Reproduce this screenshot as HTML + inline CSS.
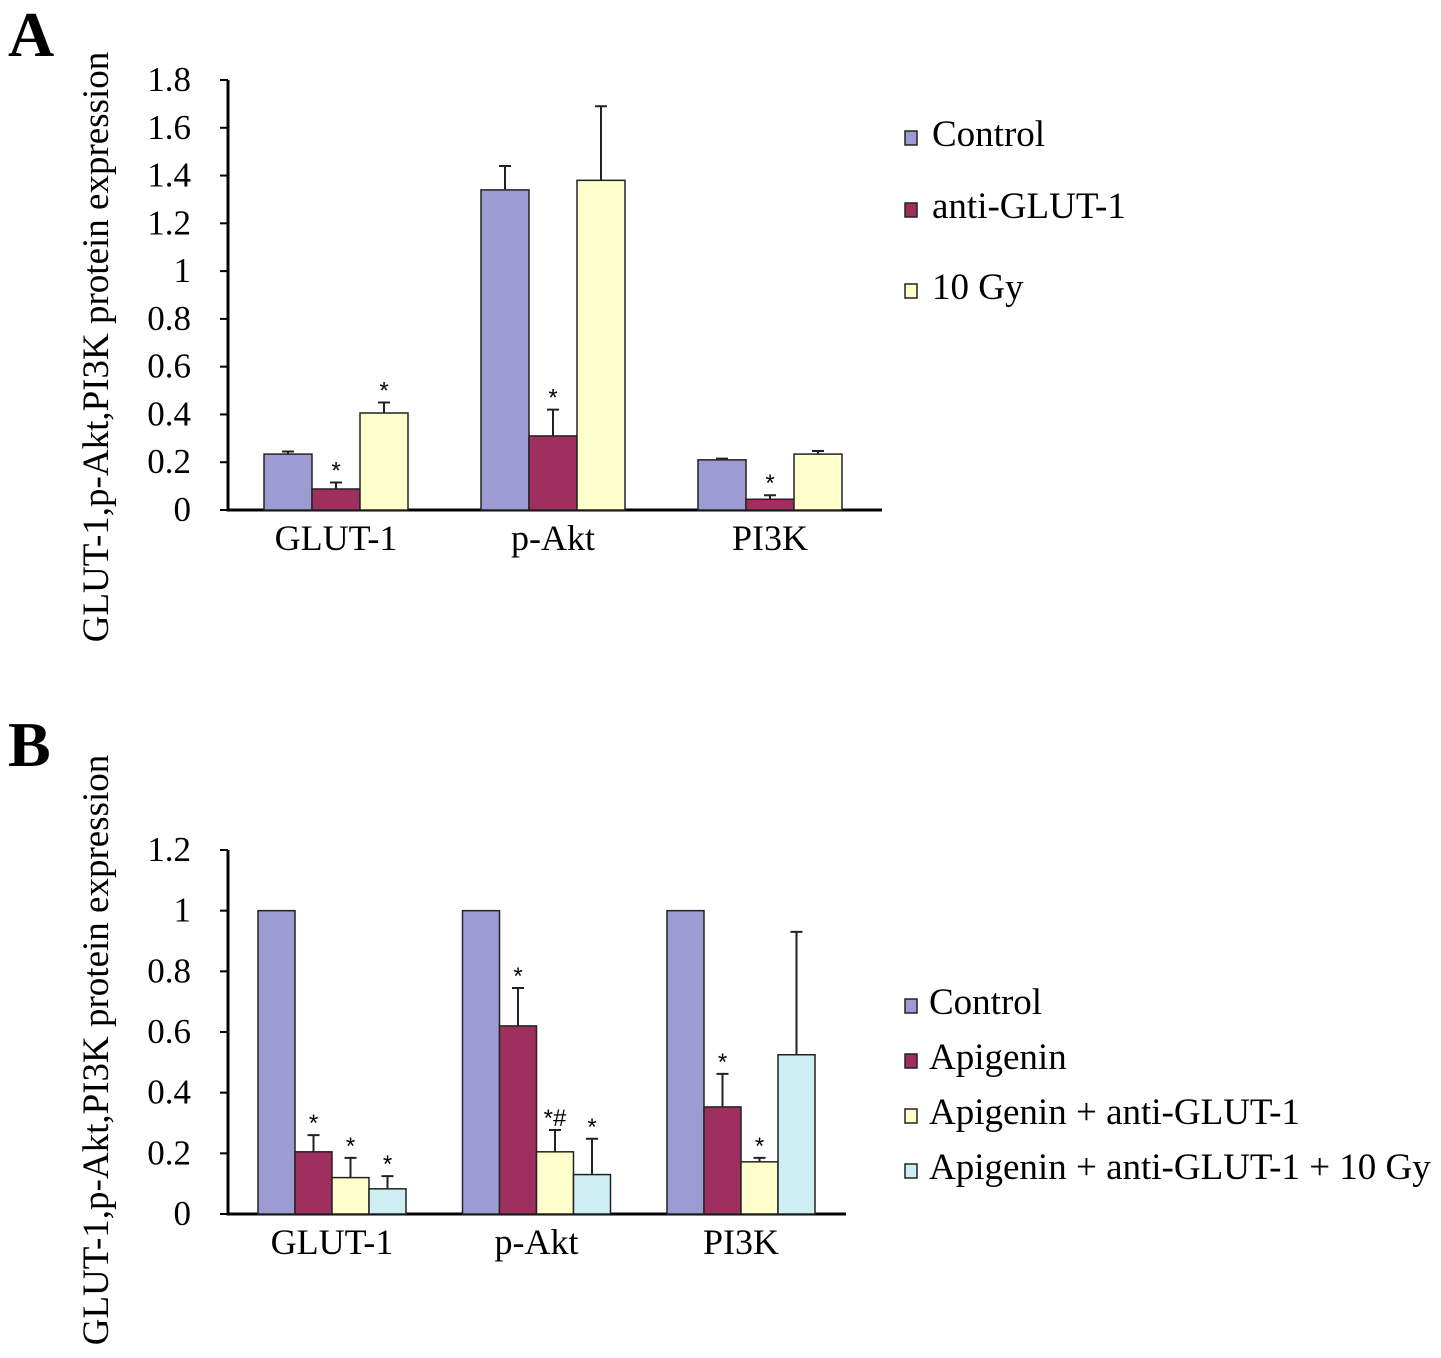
<!DOCTYPE html>
<html><head><meta charset="utf-8"><style>
body{margin:0;background:#fff}
svg{display:block;font-family:"Liberation Serif",serif}
</style></head><body>
<svg id="s" width="1441" height="1358" viewBox="0 0 1441 1358">
<text x="8" y="56" font-size="64" font-weight="bold">A</text>
<text x="8" y="766" font-size="64" font-weight="bold">B</text>
<text transform="translate(108,347) rotate(-90)" text-anchor="middle" font-size="37">GLUT-1,p-Akt,PI3K protein expression</text>
<text transform="translate(108,1050) rotate(-90)" text-anchor="middle" font-size="37">GLUT-1,p-Akt,PI3K protein expression</text>
</svg>
<script>
const categories=["GLUT-1","p-Akt","PI3K"];
const seriesA=["Control","anti-GLUT-1","10 Gy"];
const valuesA=[[0.234,1.34,0.21],[0.088,0.31,0.045],[0.406,1.38,0.234]];
const errA=[[0.245,1.44,0.215],[0.115,0.42,0.062],[0.45,1.69,0.247]];
const starA=[[false,false,false],[true,true,true],[true,false,false]];
const ticksA=["0","0.2","0.4","0.6","0.8","1","1.2","1.4","1.6","1.8"];
const seriesB=["Control","Apigenin","Apigenin + anti-GLUT-1","Apigenin + anti-GLUT-1 + 10 Gy"];
const valuesB=[[1,1,1],[0.205,0.62,0.353],[0.12,0.205,0.172],[0.083,0.13,0.525]];
const errB=[[1,1,1],[0.26,0.745,0.462],[0.185,0.277,0.185],[0.125,0.248,0.93]];
const starB=[["","",""],["*","*","*"],["*","*#","*"],["*","*",""]];
const ticksB=["0","0.2","0.4","0.6","0.8","1","1.2"];
const colors=["#9c9cd2","#9e2f5e","#ffffcc","#cdeef2"];
const NS="http://www.w3.org/2000/svg";
const svg=document.getElementById('s');
function mk(t,a,txt){const e=document.createElementNS(NS,t);for(const k in a)e.setAttribute(k,a[k]);if(txt!==undefined)e.textContent=txt;svg.appendChild(e);return e;}
function chart(o){
 const y=v=>o.base-(v/o.max)*(o.base-o.top);
 const ax=mk('path',{d:`M${o.x0},${o.top} V${o.base} H${o.x1}`,stroke:'#000','stroke-width':3,fill:'none'});
 
 o.ticks.forEach((t,i)=>{const v=i*o.step;
  const l=mk('line',{x1:o.x0-8,x2:o.x0,y1:y(v),y2:y(v),stroke:'#000','stroke-width':2});
  
  const tx=mk('text',{x:o.x0-37,y:y(v)+11,'text-anchor':'end','font-size':35},t);
  });
 categories.forEach((c,ci)=>{
  o.vals.forEach((sv,si)=>{
   const bx=o.g0+ci*o.gw+si*o.bw;const v=sv[ci];
   const r=mk('rect',{x:bx,y:y(v),width:o.bw,height:o.base-y(v),fill:colors[si],stroke:'#222','stroke-width':1.5});
   
   const e=o.err[si][ci];const cx=bx+o.bw/2;
   if(e>v){const eb=mk('path',{d:`M${cx},${y(v)} V${y(e)} M${cx-6},${y(e)} H${cx+6}`,stroke:'#222','stroke-width':2});
    }
   const s=o.star(si,ci);
   if(s){const st=mk('text',{x:cx,y:y(e)-4,'text-anchor':'middle','font-size':24,'font-family':'Liberation Sans,sans-serif'},s);
    }
  });
  const gl=mk('text',{x:o.g0+ci*o.gw+o.vals.length*o.bw/2,y:o.base+40,'text-anchor':'middle','font-size':36},c);
  
 });
 o.series.forEach((n,i)=>{
  const ly=o.ly[i];
  const r=mk('rect',{x:o.lx,y:ly-15,width:12,height:14,fill:colors[i],stroke:'#222','stroke-width':1.5});
  
  const t=mk('text',{x:o.lx+o.ltx,y:ly,'font-size':37},n);
  
 });
}
chart({id:'a',x0:228,x1:882,top:80,base:510,max:1.8,step:0.2,ticks:ticksA,g0:264,gw:217,bw:48,vals:valuesA,err:errA,
 star:(s,c)=>starA[s][c]?'*':'',series:seriesA,lx:905,ly:[146,218,299],ltx:27});
chart({id:'b',x0:228,x1:846,top:850,base:1214,max:1.2,step:0.2,ticks:ticksB,g0:258,gw:204.5,bw:37,vals:valuesB,err:errB,
 star:(s,c)=>starB[s][c],series:seriesB,lx:905,ly:[1014,1069,1124,1179],ltx:24});
</script>
</body></html>
